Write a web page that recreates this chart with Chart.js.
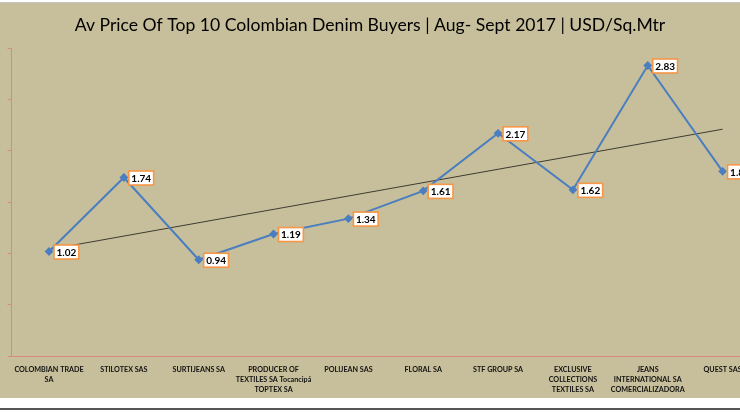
<!DOCTYPE html>
<html>
<head>
<meta charset="utf-8">
<script src="https://cdn.jsdelivr.net/npm/chart.js@4.4.0/dist/chart.umd.min.js"></script>
<style>
body{margin:0;background:#fff;}
#page{position:relative;width:740px;height:413px;overflow:hidden;}
#topline{position:absolute;left:0;top:2px;width:740px;height:1px;background:#c4c4c4;}
#frame{position:absolute;left:0;top:3px;width:740px;height:395px;background:#c7bf9b;overflow:hidden;}
#box{position:absolute;left:-20px;top:0;width:780px;height:404px;}
#bottomline{position:absolute;left:0;top:408px;width:740px;height:2px;background:#555;}
</style>
</head>
<body>
<div id="page">
  <div id="topline"></div>
  <div id="frame"><div id="box"><canvas id="myChart"></canvas></div></div>
  <div id="bottomline"></div>
</div>
<script>
let buyers = [["COLOMBIAN TRADE","SA"],"STILOTEX SAS","SURTIJEANS SA",["PRODUCER OF","TEXTILES SA Tocancipá","TOPTEX SA"],"POLIJEAN SAS","FLORAL SA","STF GROUP SA",["EXCLUSIVE","COLLECTIONS","TEXTILES SA"],["JEANS","INTERNATIONAL SA","COMERCIALIZADORA"],"QUEST SAS"];
let precio = [1.02,1.74,0.94,1.19,1.34,1.61,2.17,1.62,2.83,1.8]; // USD/Sq.Mtr
let tendencia = [1.04,null,null,null,null,null,null,null,null,2.21]; // linea de tendencia, extremos leidos
let yTicks = [0,0.5,1,1.5,2,2.5,3];

// cajitas con el valor al lado de cada punto
const etiquetas = {
    id:'etiquetas',
    afterDatasetsDraw(chart){
        const ctx = chart.ctx;
        const meta = chart.getDatasetMeta(0);
        ctx.save();
        ctx.font = 'bold 10px Lato';
        ctx.textBaseline = 'middle';
        meta.data.forEach((p,i)=>{
            const txt = String(precio[i]);
            const w = ctx.measureText(txt).width + 5;
            const h = 14;
            const x = p.x + 5, y = p.y - 6.5;
            ctx.fillStyle = '#fff';
            ctx.fillRect(x,y,w,h);
            ctx.strokeStyle = '#f79646';
            ctx.lineWidth = 1.6;
            ctx.strokeRect(x,y,w,h);
            ctx.fillStyle = '#000';
            ctx.fillText(txt, x+2.5, y+h/2+0.5);
        });
        ctx.restore();
    }
};

let ctx = document.getElementById('myChart').getContext('2d');
let myChart = new Chart(ctx, {
    type: 'line',
    data: {
        labels: buyers,
        datasets: [
        {
            label: 'Av Price',
            data: precio,
            borderColor: '#4a7ebf',
            backgroundColor: '#4a7ebf',
            borderWidth: 2,
            pointStyle: 'rectRot',
            pointRadius: 3,
            tension: 0
        },
        {
            label: 'Tendencia',
            data: tendencia,
            borderColor: '#3d3b30',
            borderWidth: 1,
            pointRadius: 0,
            spanGaps: true
        }
        ]
    },
    plugins: [etiquetas],
    options: {
        responsive: true,
        maintainAspectRatio: false,
        animation: false,
        layout: { autoPadding: false, padding: { left: 0, right: 0, top: 0, bottom: 4 } },
        plugins: {
            legend: { display: false },
            tooltip: { enabled: false },
            title: {
                display: true,
                text: 'Av Price Of Top 10 Colombian Denim Buyers | Aug- Sept 2017 | USD/Sq.Mtr',
                color: '#000',
                font: { family: 'Lato', size: 17.6, weight: 'normal' },
                padding: { top: 11.5, bottom: 12.4 }
            }
        },
        scales: {
            x: {
                offset: true,
                grid: { display: false, drawTicks: false },
                border: { color: '#d98a78', width: 1 },
                ticks: {
                    autoSkip: false,
                    maxRotation: 0,
                    minRotation: 0,
                    padding: 8,
                    color: '#111',
                    font: { family: 'Lato', size: 7.2, weight: 'bold', lineHeight: 1.42 }
                }
            },
            y: {
                min: yTicks[0],
                max: yTicks[yTicks.length-1],
                ticks: { stepSize: yTicks[1]-yTicks[0], display: false },
                grid: { drawOnChartArea: false, drawTicks: true, tickLength: 4, color: '#d98a78' },
                border: { color: '#d98a78', width: 1 },
                afterFit(scale){ scale.width = 31.6; }
            }
        }
    }
});
</script>
</body>
</html>
